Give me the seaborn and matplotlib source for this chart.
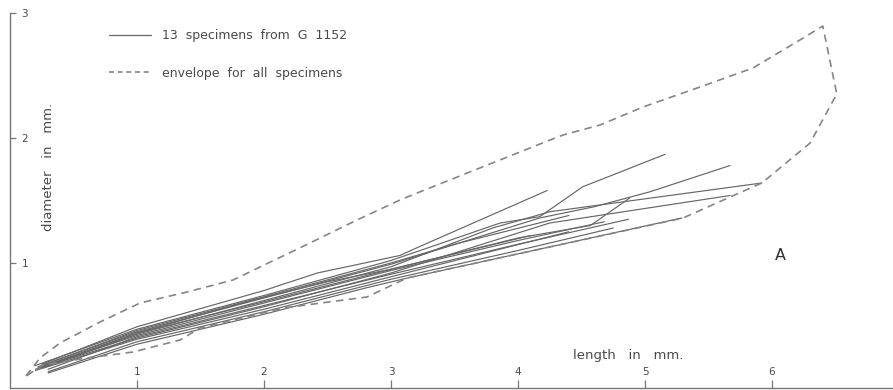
import pandas as pd
import matplotlib.pyplot as plt
import seaborn as sns
from matplotlib.lines import Line2D

# ---- data (length, diameter in mm) ----
spec_x = [
    [0.25, 1.0, 2.0, 2.42, 3.07, 3.2, 4.23],
    [0.20, 1.0, 2.0, 3.0, 3.86, 4.17, 4.51, 5.16],
    [0.22, 1.0, 2.0, 3.0, 4.17, 4.6, 5.04, 5.67],
    [0.25, 1.0, 2.0, 3.0, 3.8, 4.25, 5.92],
    [0.20, 1.0, 2.0, 3.0, 4.25, 5.67],
    [0.25, 1.0, 2.0, 3.0, 4.0, 4.57, 4.88],
    [0.30, 1.0, 2.0, 3.0, 4.0, 4.87],
    [0.30, 1.0, 2.0, 3.0, 4.0, 4.75],
    [0.22, 1.0, 2.0, 3.0, 4.0, 4.68],
    [0.30, 1.0, 2.0, 2.8, 3.13, 5.29],
    [0.25, 1.0, 2.0, 3.0, 3.5, 4.4],
    [0.20, 1.0, 2.0, 3.0, 4.4],
    [0.28, 1.0, 1.9, 2.5, 3.0, 4.1],
]
spec_y = [
    [0.19, 0.49, 0.78, 0.92, 1.06, 1.12, 1.58],
    [0.18, 0.47, 0.74, 1.02, 1.32, 1.37, 1.61, 1.87],
    [0.17, 0.45, 0.72, 0.99, 1.36, 1.45, 1.57, 1.78],
    [0.16, 0.43, 0.70, 0.97, 1.28, 1.41, 1.64],
    [0.15, 0.40, 0.65, 0.92, 1.32, 1.54],
    [0.17, 0.44, 0.69, 0.95, 1.20, 1.30, 1.52],
    [0.15, 0.41, 0.66, 0.91, 1.15, 1.35],
    [0.13, 0.37, 0.61, 0.87, 1.10, 1.28],
    [0.16, 0.42, 0.68, 0.94, 1.18, 1.33],
    [0.12, 0.35, 0.59, 0.80, 0.88, 1.36],
    [0.18, 0.46, 0.73, 1.00, 1.15, 1.38],
    [0.14, 0.39, 0.63, 0.89, 1.25],
    [0.17, 0.44, 0.70, 0.85, 0.95, 1.22],
]

# envelope polygon (upper edge left->right, then lower edge right->left)
env_x = [0.126, 0.236, 0.394, 0.709, 1.024, 1.394, 1.756, 2.362, 2.732, 3.071,
         3.205, 3.858, 4.252, 4.354, 4.646, 4.984, 5.433, 5.85, 6.22, 6.40,
         6.51, 6.30, 5.92, 5.67, 5.30, 3.126, 2.81, 2.15, 1.496, 1.339,
         0.969, 0.606, 0.26, 0.126]
env_y = [0.096, 0.24, 0.36, 0.528, 0.68, 0.768, 0.864, 1.16, 1.344, 1.504,
         1.56, 1.824, 1.984, 2.024, 2.104, 2.248, 2.408, 2.56, 2.784, 2.896,
         2.352, 1.96, 1.64, 1.528, 1.36, 0.88, 0.728, 0.64, 0.48, 0.384,
         0.288, 0.24, 0.184, 0.096]

x_ticks = [1, 2, 3, 4, 5, 6, 7]
y_ticks = [1, 2, 3]

rows = []
for i, (xs, ys) in enumerate(zip(spec_x, spec_y)):
    for a, b in zip(xs, ys):
        rows.append({"specimen": i, "length": a, "diameter": b})
spec_df = pd.DataFrame(rows)
env_df = pd.DataFrame({"length": env_x, "diameter": env_y})

sns.set_style("white")
plt.rcParams["font.family"] = ["DejaVu Sans"]

txt = "#4a4a4a"
fig = plt.figure(figsize=(8.93, 3.90), dpi=100)
ax = fig.add_axes([10 / 893, 2 / 390, 889 / 893, 375 / 390])

sns.lineplot(data=spec_df, x="length", y="diameter", units="specimen",
             estimator=None, sort=False, color="#666666", lw=0.85, ax=ax)
sns.lineplot(data=env_df, x="length", y="diameter", estimator=None,
             sort=False, color="#858585", lw=1.2, ax=ax,
             linestyle=(0, (4.5, 3.2)))

ax.set_xlim(0, 7)
ax.set_ylim(0, 3)
ax.set_xticks(x_ticks)
ax.set_yticks(y_ticks)
ax.set_xlabel("")
ax.set_ylabel("")
for s in ["top", "right"]:
    ax.spines[s].set_visible(False)
for s in ["left", "bottom"]:
    ax.spines[s].set_color("#777777")
    ax.spines[s].set_linewidth(1.0)
# seaborn's white style hides ticks, turn them back on (pointing inward)
ax.tick_params(axis="x", bottom=True, direction="in", length=6, width=0.9,
               color="#777777", pad=-15, labelsize=7.5, labelcolor=txt)
ax.tick_params(axis="y", left=True, direction="in", length=4.5, width=0.9,
               color="#777777", pad=-13, labelsize=7.5, labelcolor=txt)

handles = [Line2D([], [], color="#666666", lw=0.9),
           Line2D([], [], color="#858585", lw=1.2, linestyle=(0, (3, 2.2)))]
leg = ax.legend(handles, ["13  specimens  from  G  1152",
                          "envelope  for  all  specimens"],
                loc="upper left", bbox_to_anchor=(93 / 889, 1 - 10 / 375),
                frameon=False, fontsize=9, handlelength=3.3,
                handletextpad=0.9, labelspacing=1.95, borderpad=0)
for t in leg.get_texts():
    t.set_color(txt)

fig.text(48 / 893, 1 - 167 / 390, "diameter   in   mm.", rotation=90,
         ha="center", va="center", fontsize=9.5, color=txt)
fig.text(628 / 893, 1 - 355 / 390, "length   in   mm.", ha="center",
         va="center", fontsize=9.5, color=txt)
fig.text(780 / 893, 1 - 256 / 390, "A", ha="center", va="center",
         fontsize=11.5, color="#333333")

fig.savefig("out.png", dpi=100)
